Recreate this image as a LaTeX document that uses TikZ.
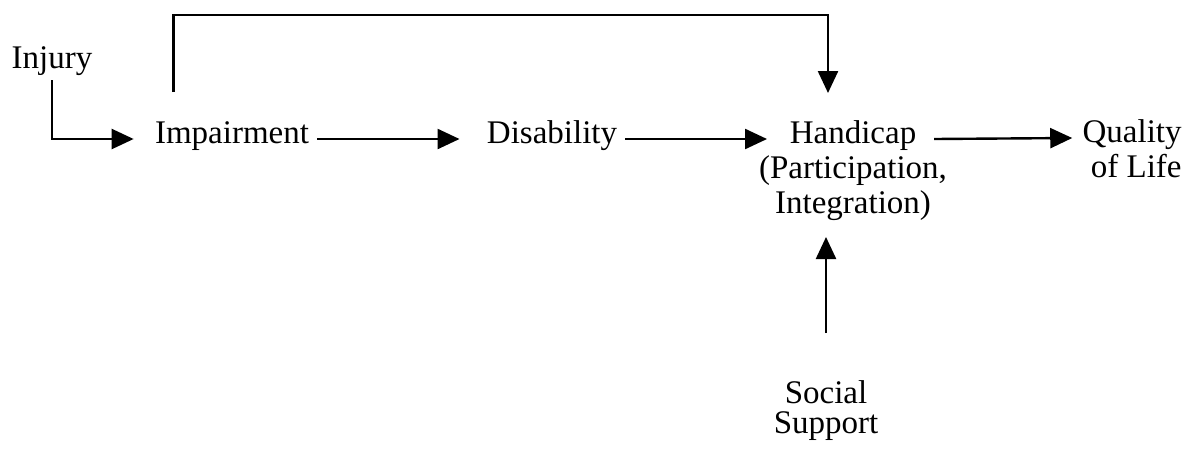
\documentclass[tikz,border=0pt]{standalone}
\usepackage{fontspec}
\setmainfont{Liberation Serif}
\usetikzlibrary{arrows.meta,calc}
\begin{document}
\begin{tikzpicture}[x=0.5pt,y=-0.5pt,
  lbl/.style={inner sep=0pt,anchor=base,font=\fontsize{16.5}{17.5}\selectfont},
  conn/.style={line width=1.2pt,line join=miter},
  arr/.style={conn,-{Triangle[length=11pt,width=10pt]}}]
\useasboundingbox (0,0) rectangle (1192,451);
% nodes (for multi-line nodes, base = baseline of last line)
\node[lbl] (inj) at (52,68) {Injury};
\node[lbl] (imp) at (232,143) {Impairment};
\node[lbl] (dis) at (552,143) {Disability};
\node[lbl,align=center] (hand) at (853,213) {Handicap\\(Participation,\\Integration)};
\node[lbl,align=right,anchor=base east] (qol) at (1182,177) {Quality\\of Life};
\node[lbl,align=center,font=\fontsize{16.5}{15}\selectfont] (ss) at (826,433) {Social\\Support};
\coordinate (top) at (500,15);
% connectors
\draw[arr] ($(inj.base)+(0,12)$) |- ($(imp.base west)+(-21,-4)$);
\draw[arr] ($(imp.base east)+(8,-4)$) -- ($(dis.base west)+(-27,-4)$);
\draw[arr] ($(dis.base east)+(8,-4)$) -- ($(hand.base)+(-86,-74)$);
\draw[arr] ($(hand.base)+(81,-74)$) -- ($(qol.base west)+(-10,-39)$);
\coordinate (loopS) at ($(imp.base west)+(19,-51)$);
\coordinate (loopE) at ($(hand.base)+(-25,-120)$);
\draw[arr] (loopS) -- (loopS |- top) -- (loopE |- top) -- (loopE);
\draw[arr] ($(ss.base)+(0,-100)$) -- ($(ss.base)+(0,-196)$);
\end{tikzpicture}
\end{document}
